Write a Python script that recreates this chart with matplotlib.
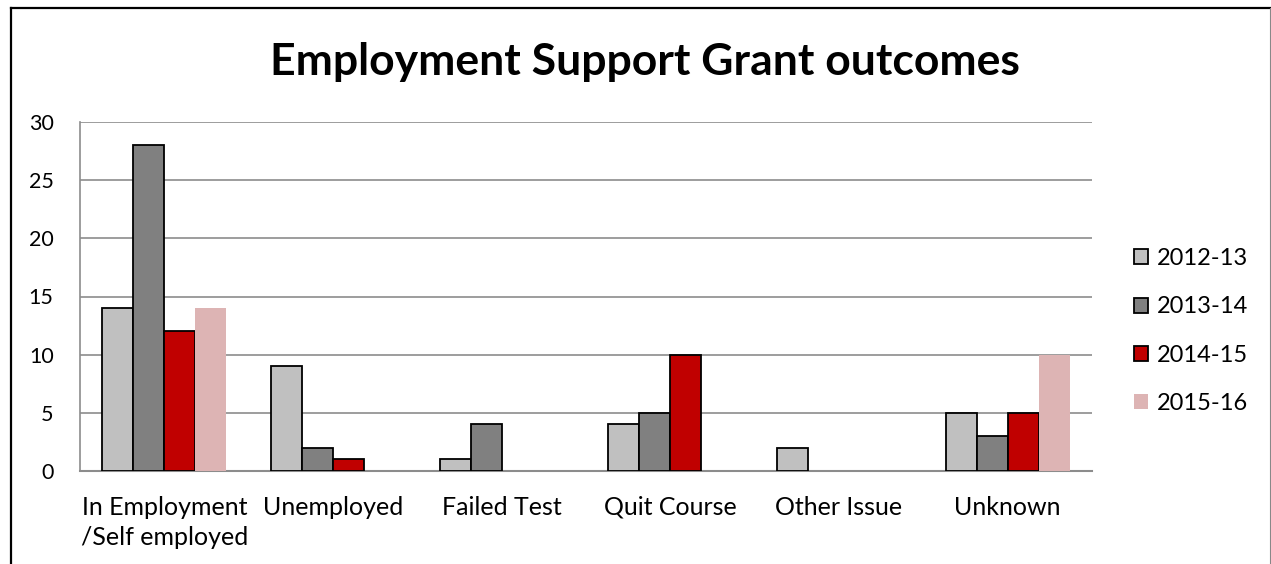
import matplotlib
matplotlib.use("Agg")
import matplotlib.pyplot as plt
from matplotlib.lines import Line2D
from matplotlib.patches import Patch
import numpy as np

plt.rcParams['font.family'] = ['Lato', 'DejaVu Sans']

categories = ["In Employment\n/Self employed", "Unemployed", "Failed Test",
              "Quit Course", "Other Issue", "Unknown"]
series_names = ["2012-13", "2013-14", "2014-15", "2015-16"]
v_2012_13 = [14, 9, 1, 4, 2, 5]
v_2013_14 = [28, 2, 4, 5, 0, 3]
v_2014_15 = [12, 1, 0, 10, 0, 5]
v_2015_16 = [14, 0, 0, 0, 0, 10]
y_ticks = [0, 5, 10, 15, 20, 25, 30]

series_values = [v_2012_13, v_2013_14, v_2014_15, v_2015_16]
colors = ["#C0C0C0", "#808080", "#C00000", "#DDB4B4"]
edges = ["black", "black", "black", "none"]

W, H = 1271, 564
fig = plt.figure(figsize=(W / 100, H / 100), dpi=100)

# outer chart frame
fig.add_artist(Line2D([11 / W, 11 / W], [0, 1 - 8 / H], color="black", lw=1.6))
fig.add_artist(Line2D([11 / W, 1270 / W], [1 - 8 / H, 1 - 8 / H], color="black", lw=1.6))
fig.add_artist(Line2D([1269.5 / W, 1269.5 / W], [0, 1 - 8 / H], color="#888888", lw=0.8))

ax = fig.add_axes([80 / W, 1 - 471 / H, (1092 - 80) / W, (471 - 122) / H])

n = len(categories)
x = np.arange(n)
bw = 1 / 5.44
for i, (vals, c, ec) in enumerate(zip(series_values, colors, edges)):
    offs = (i - 1.5) * bw
    lws = [1.3 if (ec != "none" and v > 0) else 0 for v in vals]
    ax.bar(x + offs, vals, width=bw, color=c, edgecolor=ec,
           linewidth=lws, label=series_names[i], zorder=3)

ax.set_xlim(-0.5, n - 0.5)
ax.set_ylim(0, 30)
ax.set_yticks(y_ticks)
ax.set_yticklabels([str(t) for t in y_ticks], fontsize=15.5)
ax.set_xticks(x)
ax.set_xticklabels(categories, fontsize=18, linespacing=1.38)
ax.tick_params(axis="x", length=0, pad=18)
ax.tick_params(axis="y", length=0, pad=19)
ax.yaxis.grid(True, color="#8C8C8C", lw=1.2, zorder=0)
for s in ["top", "right"]:
    ax.spines[s].set_visible(False)
ax.spines["left"].set_color("#8C8C8C")
ax.spines["bottom"].set_color("#8C8C8C")
ax.spines["left"].set_linewidth(1.2)
ax.spines["bottom"].set_linewidth(1.5)

fig.text(645 / W, 1 - 62 / H, "Employment Support Grant outcomes",
         ha="center", va="center", fontsize=32, fontweight="bold")

handles = [Patch(facecolor=c, edgecolor=ec, linewidth=1.3 if ec != "none" else 0)
           for c, ec in zip(colors, edges)]
fig.legend(handles, series_names, loc="center left",
           bbox_to_anchor=(1122 / W, 1 - 331 / H), frameon=False, fontsize=17,
           handlelength=0.6, handleheight=0.6, handletextpad=0.38,
           labelspacing=1.15, borderpad=0)

fig.savefig("out.png", dpi=100)
